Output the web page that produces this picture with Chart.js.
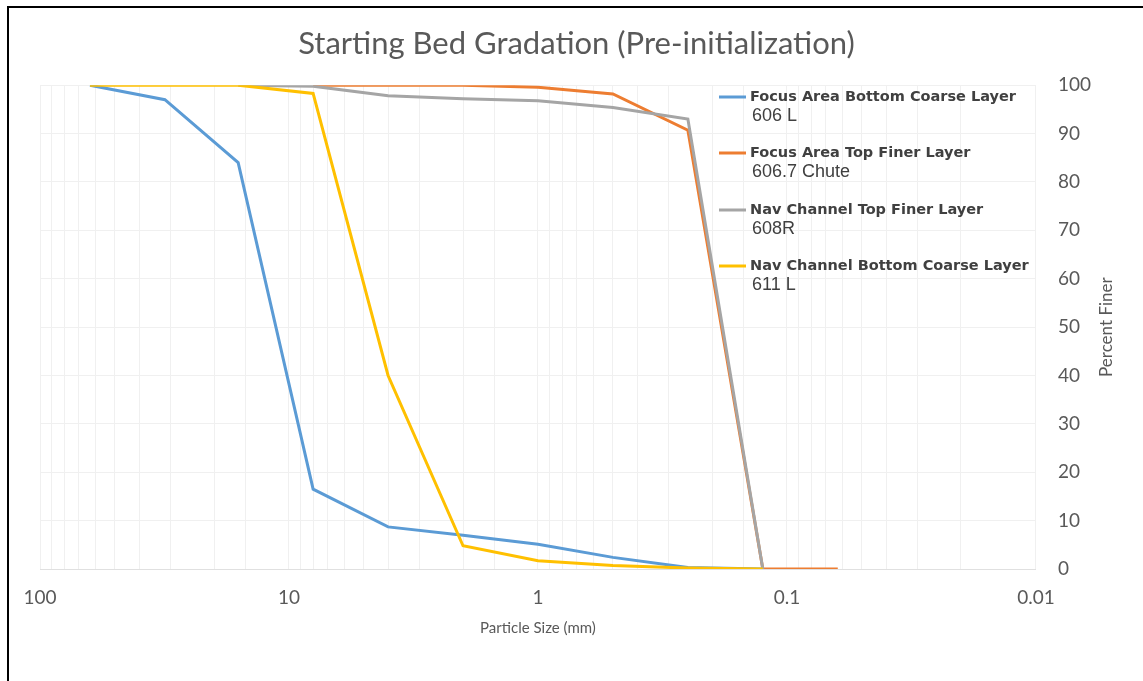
<!DOCTYPE html>
<html>
<head>
<meta charset="utf-8">
<script src="https://cdn.jsdelivr.net/npm/chart.js@4"></script>
<style>
  html, body { margin: 0; padding: 0; background: #fff; }
  #frame {
    position: absolute; left: 7px; top: 6px; width: 1143px; height: 681px;
    border-left: 2px solid #000; border-top: 2px solid #000; box-sizing: border-box;
  }
  #wrap { position: absolute; left: 0; top: 0; width: 1143px; height: 681px; }
</style>
</head>
<body>
<div id="wrap"><canvas id="myChart" width="1143" height="681"></canvas></div>
<div id="frame"></div>
<script>
// particle sizes (mm) and percent finer for each sample
const labels = [
  "Focus Area Bottom Coarse Layer|606 L",
  "Focus Area Top Finer Layer|606.7 Chute",
  "Nav Channel Top Finer Layer|608R",
  "Nav Channel Bottom Coarse Layer|611 L",
];
const colors = ["#5B9BD5", "#ED7D31", "#A5A5A5", "#FFC000"];

const blueSize = [63, 31.5, 16, 8, 4, 2, 1, 0.5, 0.25, 0.125];
const bluePct = [100, 97, 84, 16.5, 8.7, 7, 5.1, 2.4, 0.3, 0];

const orangeSize = [8, 4, 2, 1, 0.5, 0.25, 0.125, 0.0625];
const orangePct = [100, 100, 100, 99.6, 98.2, 90.7, 0, 0];

const graySize = [16, 8, 4, 2, 1, 0.5, 0.25, 0.125];
const grayPct = [100, 99.8, 97.8, 97.2, 96.8, 95.4, 93, 0];

const yellowSize = [63, 31.5, 16, 8, 4, 2, 1, 0.5, 0.25, 0.125];
const yellowPct = [100, 100, 100, 98.3, 40, 4.8, 1.7, 0.7, 0.2, 0];

const xTicks = [100, 10, 1, 0.1, 0.01];

function pts(xs, ys) {
  return xs.map((x, i) => ({ x: x, y: ys[i] }));
}

const series = [
  pts(blueSize, bluePct),
  pts(orangeSize, orangePct),
  pts(graySize, grayPct),
  pts(yellowSize, yellowPct),
];

// legend drawn by hand because entries have two lines
const legendPlugin = {
  id: "twoLineLegend",
  afterDraw(chart) {
    const c = chart.ctx;
    const x0 = 719;
    const tops = [97, 153, 210, 266];
    chart.data.datasets.forEach((ds, i) => {
      const parts = ds.label.split("|");
      const y = tops[i];
      c.save();
      c.strokeStyle = ds.borderColor;
      c.lineWidth = 3;
      c.beginPath();
      c.moveTo(x0, y);
      c.lineTo(x0 + 27, y);
      c.stroke();
      c.fillStyle = "#404040";
      c.textBaseline = "middle";
      c.font = "bold 14.5px 'DejaVu Sans'";
      c.fillText(parts[0], x0 + 31, y);
      c.font = "18px 'Liberation Sans'";
      c.fillText(parts[1], x0 + 33, y + 19);
      c.restore();
    });

    const a = chart.chartArea;
    c.save();
    c.fillStyle = "#595959";
    c.textAlign = "center";
    c.textBaseline = "middle";
    // x axis title
    c.font = "15px Lato";
    c.fillText("Particle Size (mm)", (a.left + a.right) / 2, 628);
    // y axis title, reading bottom to top
    c.translate(1107, (a.top + a.bottom) / 2);
    c.rotate(-Math.PI / 2);
    c.font = "17px Lato";
    c.fillText("Percent Finer", 0, 0);
    c.restore();
  },
};

const ctx = document.getElementById("myChart");

new Chart(ctx, {
  type: "line",
  data: {
    datasets: series.map((d, i) => ({
      label: labels[i],
      data: d,
      borderColor: colors[i],
      backgroundColor: colors[i],
      borderWidth: 3,
      pointRadius: 0,
      tension: 0,
      order: 4 - i,
    })),
  },
  options: {
    responsive: false,
    animation: false,
    layout: { padding: { left: 40, right: 30, top: 0, bottom: 55 } },
    plugins: {
      legend: { display: false },
      tooltip: { enabled: false },
      title: {
        display: true,
        text: "Starting Bed Gradation (Pre-initialization)",
        color: "#595959",
        font: { family: "Lato", size: 31, weight: "normal" },
        padding: { top: 25, bottom: 23 },
      },
    },
    scales: {
      x: {
        type: "logarithmic",
        reverse: true,
        min: 0.01,
        max: 100,
        grid: { color: "#f0f0f0", drawTicks: false },
        border: { color: "#e0e0e0" },
        ticks: {
          autoSkip: false,
          maxRotation: 0,
          color: "#595959",
          padding: 19,
          font: { family: "Lato", size: 19, lineHeight: 1 },
          callback: (v) => {
            const hit = xTicks.find((t) => Math.abs(Math.log10(v) - Math.log10(t)) < 1e-6);
            return hit === undefined ? "" : String(hit);
          },
        },
      },
      y: {
        position: "right",
        min: 0,
        max: 100,
        grid: { color: "#f0f0f0", drawTicks: false },
        border: { display: false },
        ticks: {
          stepSize: 10,
          color: "#595959",
          padding: 22,
          font: { family: "Lato", size: 19 },
        },
      },
    },
  },
  plugins: [legendPlugin],
});
</script>
</body>
</html>
